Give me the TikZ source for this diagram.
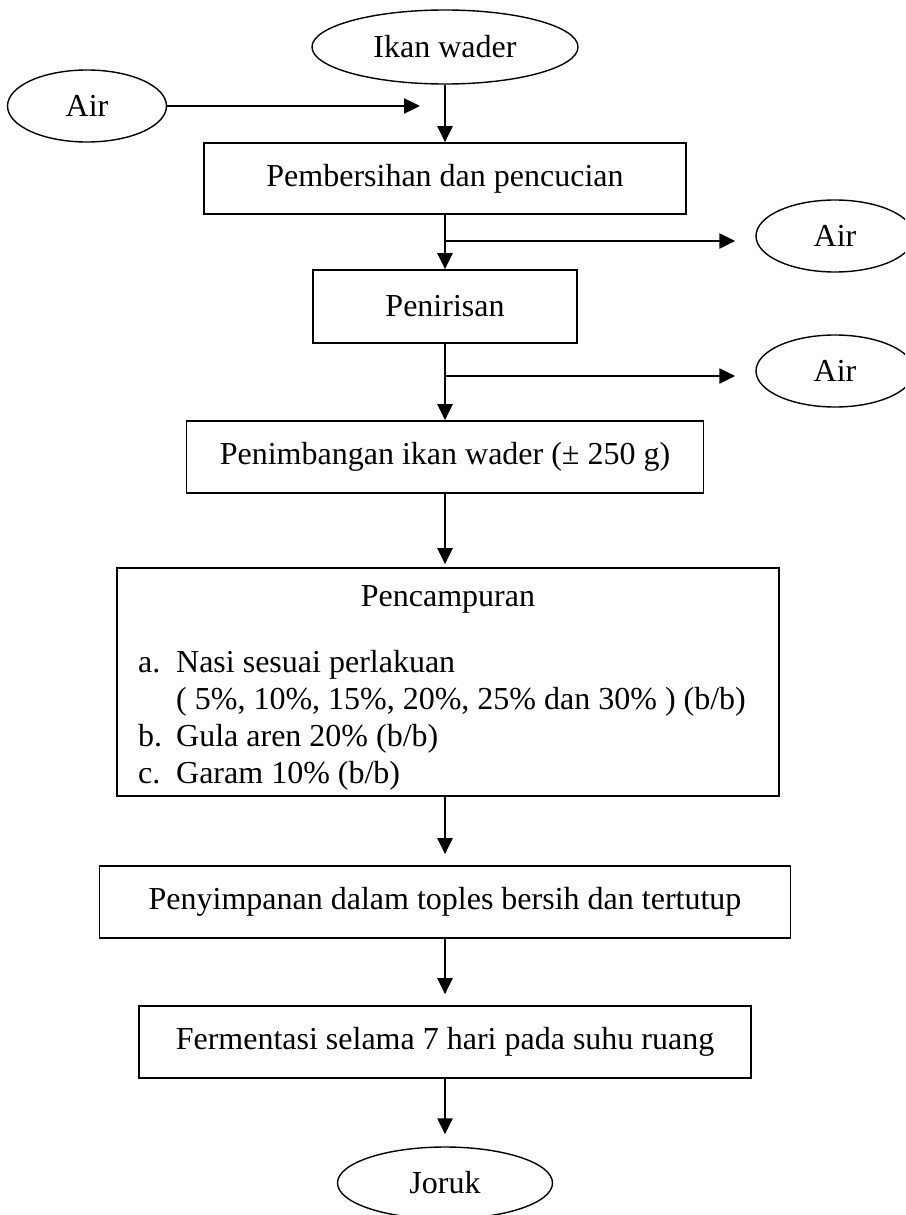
\documentclass[tikz,border=0pt]{standalone}
\usepackage{fontspec}
\setmainfont{Liberation Serif}
\usetikzlibrary{positioning,arrows.meta,shapes.geometric}

\begin{document}
\begin{tikzpicture}[x=1pt,y=-1pt,
    font=\fontsize{32}{37}\selectfont,
    prosesbox/.style={draw,line width=1.7pt,inner sep=0pt},
    ujung/.style={draw,ellipse,line width=1.4pt,inner sep=0pt},
    panah/.style={line width=2.4pt,-{Triangle[length=16pt,width=15pt]}}]
  \useasboundingbox (0,0) rectangle (905,1215);
  \clip (0,0) rectangle (905,1215);

  % bahan masuk
  \node[ujung, minimum width=266pt, minimum height=74pt] (ikan) at (445,47) {Ikan wader};
  \node[ujung, minimum width=159pt, minimum height=72pt] (airmasuk) at (87,106) {Air};
  \coordinate (airtuju) at (420,106);

  % tahapan proses
  \node[prosesbox, minimum width=482pt, minimum height=71pt] (bersih) at (445,178.5) {Pembersihan dan pencucian};
  \node[prosesbox, minimum width=264pt, minimum height=73pt] (tiris) at (445,306.5) {Penirisan};
  \node[prosesbox, minimum width=517pt, minimum height=72pt] (timbang) at (445,457) {Penimbangan ikan wader (± 250 g)};
  \node[prosesbox, minimum width=662pt, minimum height=228pt] (campur) at (448,682) {};
  \node (campurjudul) at (448,599) {Pencampuran};
  \node[anchor=north west, align=left, inner sep=0pt] (campurisi) at (138,650)
    {\makebox[38pt][l]{a.}Nasi sesuai perlakuan\\
     \hspace*{38pt}( 5\%, 10\%, 15\%, 20\%, 25\% dan 30\% ) (b/b)\\
     \makebox[38pt][l]{b.}Gula aren 20\% (b/b)\\
     \makebox[38pt][l]{c.}Garam 10\% (b/b)};
  \node[prosesbox, minimum width=691pt, minimum height=72pt] (simpan) at (445,902) {Penyimpanan dalam toples bersih dan tertutup};
  \node[prosesbox, minimum width=612pt, minimum height=72pt] (ferment) at (445,1042) {Fermentasi selama 7 hari pada suhu ruang};
  \node[ujung, minimum width=215pt, minimum height=72pt] (joruk) at (445,1183) {Joruk};

  % air keluar
  \node[ujung, minimum width=158pt, minimum height=72pt] (airkeluar1) at (835,236) {Air};
  \node[ujung, minimum width=158pt, minimum height=72pt] (airkeluar2) at (835,371) {Air};
  \coordinate (cabang1) at (445,241);
  \coordinate (cabang2) at (445,376);

  % panah
  \draw[panah] (airmasuk) -- (airtuju);
  \draw[panah] (ikan) -- (bersih);
  \draw[panah] (bersih) -- (tiris);
  \draw[panah, shorten >=20pt] (cabang1) -- (cabang1 -| airkeluar1.west);
  \draw[panah] (tiris) -- (timbang);
  \draw[panah, shorten >=20pt] (cabang2) -- (cabang2 -| airkeluar2.west);
  \draw[panah, shorten >=3pt] (timbang.south) -- (timbang.south |- campur.north);
  \draw[panah, shorten >=11pt] (campur.south -| simpan.north) -- (simpan.north);
  \draw[panah, shorten >=11pt] (simpan) -- (ferment);
  \draw[panah, shorten >=12pt] (ferment) -- (joruk);
\end{tikzpicture}
\end{document}
